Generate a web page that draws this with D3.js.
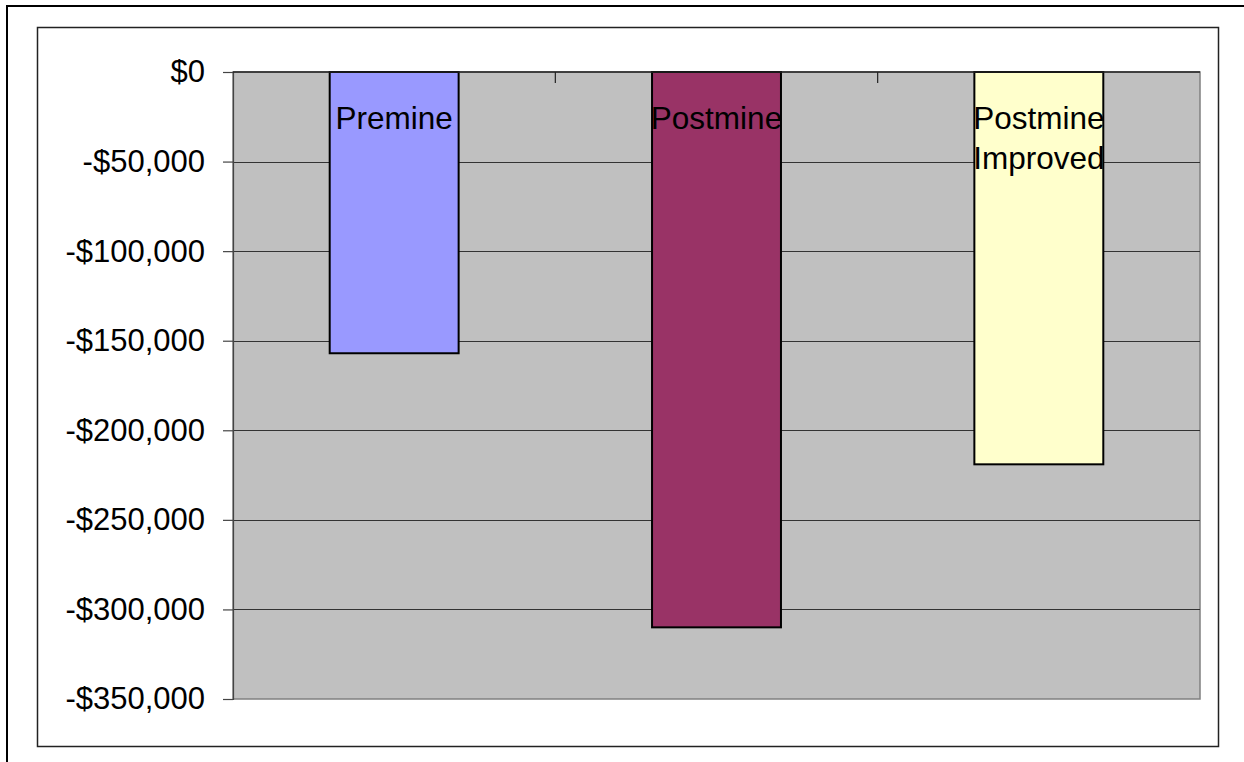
<!DOCTYPE html>
<html>
<head>
<meta charset="utf-8">
<script src="https://cdn.jsdelivr.net/npm/d3@7"></script>
<style>
  html, body { margin: 0; padding: 0; background: #fff; }
  svg { display: block; }
  text { font-family: "Liberation Sans", Arial, sans-serif; fill: #000; }
</style>
</head>
<body>
<svg id="chart" width="1244" height="762"></svg>
<script>
// Net value by scenario
const categories = ["Premine", "Postmine", "Postmine Improved"];
const labelLines = [["Premine"], ["Postmine"], ["Postmine", "Improved"]];
const values = [-157000, -310000, -219000];
const colors = ["#9999FF", "#993366", "#FFFFCC"];
const yTicks = [0, -50000, -100000, -150000, -200000, -250000, -300000, -350000];

const svg = d3.select("#chart");

// Outer chart frame and inner chart-area frame
svg.append("rect").attr("x", 7).attr("y", 6).attr("width", 1260).attr("height", 780)
  .attr("fill", "none").attr("stroke", "#000").attr("stroke-width", 2);
svg.append("rect").attr("x", 37.5).attr("y", 27.5).attr("width", 1181).attr("height", 719)
  .attr("fill", "#fff").attr("stroke", "#222").attr("stroke-width", 1.5);

const plot = { left: 233, right: 1200, top: 72, bottom: 699 };

const x = d3.scaleBand()
  .domain(categories)
  .range([plot.left, plot.right])
  .paddingInner(0.6)
  .paddingOuter(0.3);

const y = d3.scaleLinear()
  .domain([-350000, 0])
  .range([plot.bottom, plot.top]);

// Plot area background
svg.append("rect")
  .attr("x", plot.left).attr("y", plot.top)
  .attr("width", plot.right - plot.left).attr("height", plot.bottom - plot.top)
  .attr("fill", "#C0C0C0")
  .attr("stroke", "#808080").attr("stroke-width", 1.5);

// Horizontal gridlines
svg.append("g").selectAll("line")
  .data(yTicks.filter(d => d !== 0 && d !== -350000))
  .join("line")
  .attr("x1", plot.left).attr("x2", plot.right)
  .attr("y1", d => Math.round(y(d)) + 0.5).attr("y2", d => Math.round(y(d)) + 0.5)
  .attr("stroke", "#333").attr("stroke-width", 1);

// Value axis
const fmt = d => d === 0 ? "$0" : "-$" + d3.format(",")(-d);
const yAxis = svg.append("g")
  .attr("transform", `translate(${plot.left},0)`)
  .call(d3.axisLeft(y).tickValues(yTicks).tickFormat(fmt).tickSize(10).tickPadding(18));
yAxis.select(".domain").attr("stroke", "#444").attr("stroke-width", 1.2);
yAxis.selectAll(".tick line").attr("stroke", "#444").attr("stroke-width", 1.2);
yAxis.selectAll(".tick text")
  .style("font-family", '"Liberation Sans", Arial, sans-serif')
  .style("font-size", "31px").attr("fill", "#000");

// Bars
svg.append("g").selectAll("rect")
  .data(categories)
  .join("rect")
  .attr("x", d => x(d))
  .attr("y", y(0))
  .attr("width", x.bandwidth())
  .attr("height", (d, i) => y(values[i]) - y(0))
  .attr("fill", (d, i) => colors[i])
  .attr("stroke", "#000").attr("stroke-width", 2);

// Category axis along the zero line, with boundary ticks pointing down
const bounds = d3.range(categories.length + 1).map(i => plot.left + i * x.step());
svg.append("line")
  .attr("x1", plot.left).attr("x2", plot.right)
  .attr("y1", y(0)).attr("y2", y(0))
  .attr("stroke", "#222").attr("stroke-width", 1.5);
svg.append("g").selectAll("line")
  .data(bounds.slice(1, -1))
  .join("line")
  .attr("x1", d => d).attr("x2", d => d)
  .attr("y1", y(0)).attr("y2", y(0) + 11)
  .attr("stroke", "#222").attr("stroke-width", 1.2);

// Category labels inside the top of each bar
const labels = svg.append("g").selectAll("text")
  .data(categories)
  .join("text")
  .attr("text-anchor", "middle")
  .style("font-size", "31.5px");
labels.each(function (d, i) {
  const t = d3.select(this);
  labelLines[i].forEach((line, j) => {
    t.append("tspan")
      .attr("x", x(d) + x.bandwidth() / 2)
      .attr("y", 129 + j * 40)
      .text(line);
  });
});
</script>
</body>
</html>
